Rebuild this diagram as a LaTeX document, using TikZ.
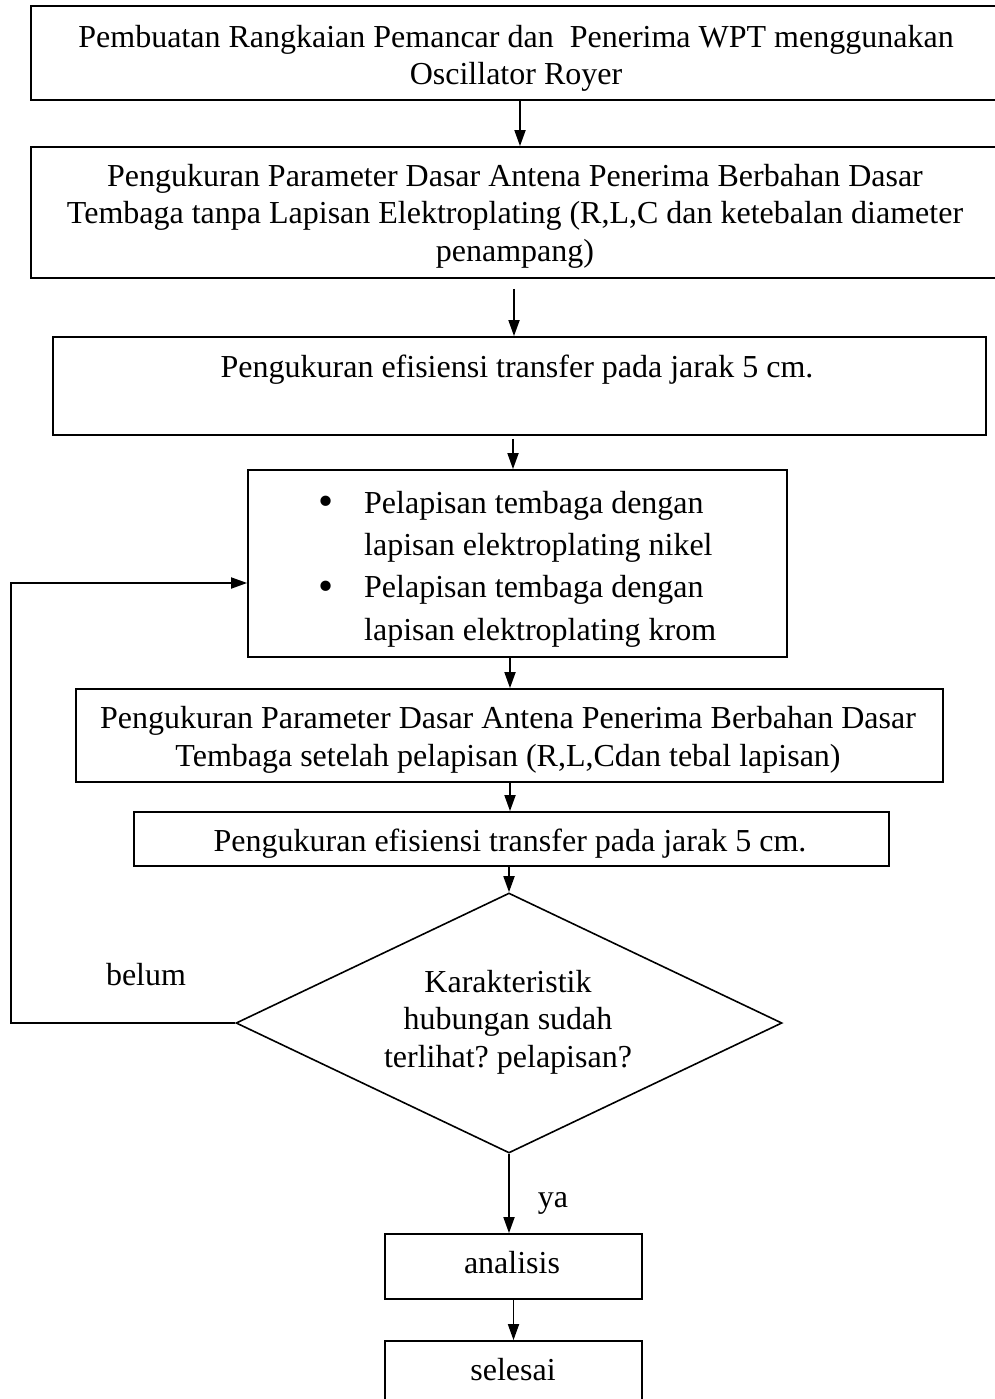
\documentclass[tikz,border=0pt]{standalone}
\usepackage{fontspec}
\setmainfont{Liberation Serif}
\usetikzlibrary{arrows.meta,shapes.geometric}
\frenchspacing
\newcommand{\bigbul}{\makebox[46pt][l]{\raisebox{-2.5pt}{\fontsize{43}{43}\selectfont\textbullet}}}
\begin{document}
\begin{tikzpicture}[x=1pt,y=-1pt,
  box/.style={draw,line width=1.8pt,inner sep=0pt,rectangle},
  dia/.style={draw,line width=1.6pt,inner sep=0pt,diamond},
  txt/.style={anchor=base,inner sep=0pt,font=\fontsize{32}{37.5}\selectfont,align=center},
  arr/.style={line width=1.8pt,-{Triangle[length=16pt,width=11pt]}}]
\useasboundingbox (0,0) rectangle (995,1399);
% boxes
\node[box,minimum width=969pt,minimum height=94pt]  (b1) at (515.5,53) {};
\node[box,minimum width=969pt,minimum height=131pt] (b2) at (515.5,212.5) {};
\node[box,minimum width=933pt,minimum height=98pt]  (b3) at (519.5,386) {};
\node[box,minimum width=539pt,minimum height=187pt] (b4) at (517.5,563.5) {};
\node[box,minimum width=867pt,minimum height=93pt]  (b5) at (509.5,735.5) {};
\node[box,minimum width=755pt,minimum height=54pt]  (b6) at (511.5,839) {};
\node[dia,minimum width=546pt,minimum height=260pt] (d)  at (509,1023) {};
\node[box,minimum width=257pt,minimum height=65pt]  (b7) at (513.5,1266.5) {};
\node[box,minimum width=257pt,minimum height=60pt]  (b8) at (513.5,1371) {};
% texts (base anchor = baseline of the last line)
\node[txt] (t1) at (516,85) {Pembuatan Rangkaian Pemancar dan\ \ Penerima WPT menggunakan\\Oscillator Royer};
\node[txt] (t2) at (515,261) {Pengukuran Parameter Dasar Antena Penerima Berbahan Dasar\\Tembaga tanpa Lapisan Elektroplating (R,L,C dan ketebalan diameter\\penampang)};
\node[txt] (t3) at (517,377) {Pengukuran efisiensi transfer pada jarak 5 cm.};
\node[txt,anchor=base west,align=left,font=\fontsize{32}{42.3}\selectfont] (t4) at (318,640)
  {\bigbul Pelapisan tembaga dengan\\
   \hspace*{46pt}lapisan elektroplating nikel\\
   \bigbul Pelapisan tembaga dengan\\
   \hspace*{46pt}lapisan elektroplating krom};
\node[txt] (t5) at (508,766) {Pengukuran Parameter Dasar Antena Penerima Berbahan Dasar\\Tembaga setelah pelapisan (R,L,Cdan tebal lapisan)};
\node[txt] (t6) at (510,851) {Pengukuran efisiensi transfer pada jarak 5 cm.};
\node[txt] (td) at (508,1067) {Karakteristik\\hubungan sudah\\terlihat? pelapisan?};
\node[txt] (tb) at (146,985) {belum};
\node[txt] (ty) at (553,1207) {ya};
\node[txt] (t7) at (512,1273) {analisis};
\node[txt] (t8) at (513,1380) {selesai};
% arrow x positions
\coordinate (xa1) at (520,0);
\coordinate (xa2) at (514,0);
\coordinate (xa3) at (513,0);
\coordinate (xa4) at (510,0);
\coordinate (lp) at (11,0);
\coordinate (ly) at (0,583);
% connectors
\draw[arr] (b1.south -| xa1) -- (b2.north -| xa1);
\draw[arr,shorten <=10pt] (b2.south -| xa2) -- (b3.north -| xa2);
\draw[arr,shorten <=3pt] (b3.south -| xa3) -- (b4.north -| xa3);
\draw[arr] (b4.south -| xa4) -- (b5.north -| xa4);
\draw[arr] (b5.south -| xa4) -- (b6.north -| xa4);
\draw[arr] (b6.south -| d.north) -- (d.north);
\draw[arr] (d.south) -- (b7.north -| d.south);
\draw[arr] (b7.south) -- (b8.north);
\draw[arr] (d.west) -- (d.west -| lp) -- (lp |- ly) -- (b4.west |- ly);
\end{tikzpicture}
\end{document}
